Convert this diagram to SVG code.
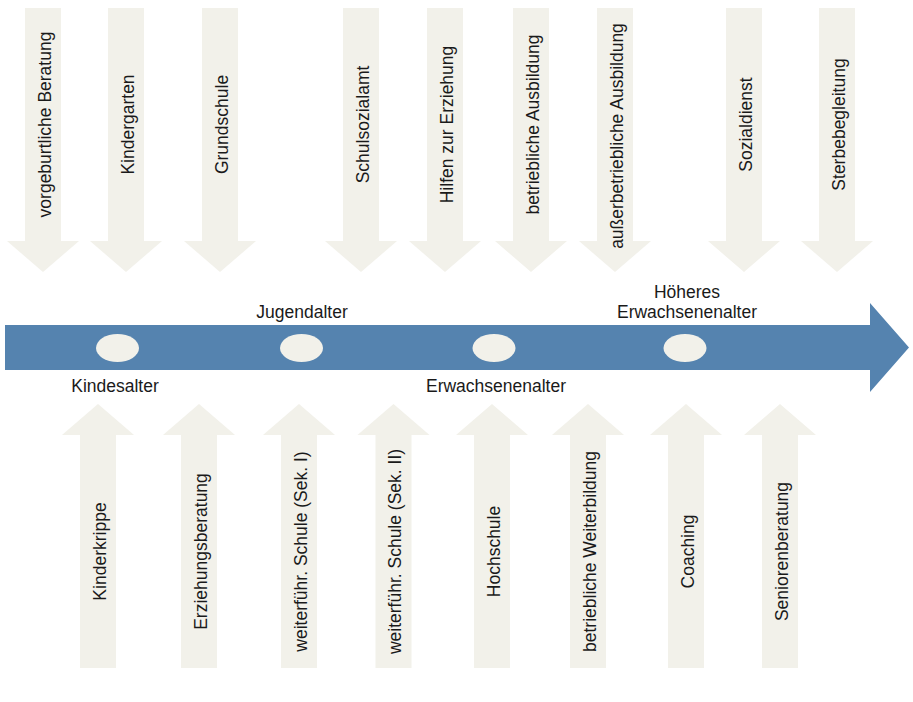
<svg xmlns="http://www.w3.org/2000/svg" width="913" height="702" viewBox="0 0 913 702">
<defs>
<style>
.arr{fill:#F2F1EA;}
.main{fill:#5583AF;}
.dot{fill:#F2F1EA;}
.t{font-family:"Liberation Sans",Arial,sans-serif;font-size:17.5px;fill:#1a1a1a;text-anchor:middle;}
</style>
<path id="down" d="M-18,8 H18 V241 H36 L0,272 L-36,241 H-18 Z"/>
<path id="up" d="M-18,668 H18 V435 H36 L0,404 L-36,435 H-18 Z"/>
</defs>
<rect width="913" height="702" fill="#ffffff"/>
<g id="timeline">
<path class="main" d="M5,325 H870 V303 L909,347.5 L870,392 V370 H5 Z"/>
<ellipse class="dot" cx="117.5" cy="348" rx="21.5" ry="14"/>
<ellipse class="dot" cx="301.5" cy="348" rx="21.5" ry="14"/>
<ellipse class="dot" cx="494" cy="348" rx="21.5" ry="14"/>
<ellipse class="dot" cx="685" cy="348" rx="21.5" ry="14"/>
<text class="t" x="115" y="392">Kindesalter</text>
<text class="t" x="302" y="318">Jugendalter</text>
<text class="t" x="496" y="392">Erwachsenenalter</text>
<text class="t" x="687" y="298">Höheres</text>
<text class="t" x="687" y="318">Erwachsenenalter</text>
</g>
<g id="top-vorgeburtliche"><use href="#down" class="arr" transform="translate(43,0)"/><text class="t" transform="translate(50.5,124.5) rotate(-90)">vorgeburtliche Beratung</text></g>
<g id="top-kindergarten"><use href="#down" class="arr" transform="translate(126,0)"/><text class="t" transform="translate(133.5,124.5) rotate(-90)">Kindergarten</text></g>
<g id="top-grundschule"><use href="#down" class="arr" transform="translate(220,0)"/><text class="t" transform="translate(227.5,124.5) rotate(-90)">Grundschule</text></g>
<g id="top-schulsozialamt"><use href="#down" class="arr" transform="translate(361,0)"/><text class="t" transform="translate(368.5,124.5) rotate(-90)">Schulsozialamt</text></g>
<g id="top-hilfen"><use href="#down" class="arr" transform="translate(445,0)"/><text class="t" transform="translate(452.5,124.5) rotate(-90)">Hilfen zur Erziehung</text></g>
<g id="top-betriebliche"><use href="#down" class="arr" transform="translate(531,0)"/><text class="t" transform="translate(538.5,124.5) rotate(-90)">betriebliche Ausbildung</text></g>
<g id="top-ausserbetriebliche"><use href="#down" class="arr" transform="translate(615,0)"/><text class="t" transform="translate(622.5,136) rotate(-90)">außerbetriebliche Ausbildung</text></g>
<g id="top-sozialdienst"><use href="#down" class="arr" transform="translate(744,0)"/><text class="t" transform="translate(751.5,124.5) rotate(-90)">Sozialdienst</text></g>
<g id="top-sterbebegleitung"><use href="#down" class="arr" transform="translate(837,0)"/><text class="t" transform="translate(844.5,124.5) rotate(-90)">Sterbebegleitung</text></g>
<g id="bot-kinderkrippe"><use href="#up" class="arr" transform="translate(98,0)"/><text class="t" transform="translate(105.5,551.5) rotate(-90)">Kinderkrippe</text></g>
<g id="bot-erziehungsberatung"><use href="#up" class="arr" transform="translate(199,0)"/><text class="t" transform="translate(206.5,551.5) rotate(-90)">Erziehungsberatung</text></g>
<g id="bot-sek1"><use href="#up" class="arr" transform="translate(299,0)"/><text class="t" transform="translate(306.5,551.5) rotate(-90)">weiterführ. Schule (Sek. I)</text></g>
<g id="bot-sek2"><use href="#up" class="arr" transform="translate(393.5,0)"/><text class="t" transform="translate(401,551.5) rotate(-90)">weiterführ. Schule (Sek. II)</text></g>
<g id="bot-hochschule"><use href="#up" class="arr" transform="translate(492,0)"/><text class="t" transform="translate(499.5,551.5) rotate(-90)">Hochschule</text></g>
<g id="bot-weiterbildung"><use href="#up" class="arr" transform="translate(588,0)"/><text class="t" transform="translate(595.5,551.5) rotate(-90)">betriebliche Weiterbildung</text></g>
<g id="bot-coaching"><use href="#up" class="arr" transform="translate(686,0)"/><text class="t" transform="translate(693.5,551.5) rotate(-90)">Coaching</text></g>
<g id="bot-seniorenberatung"><use href="#up" class="arr" transform="translate(780,0)"/><text class="t" transform="translate(787.5,551.5) rotate(-90)">Seniorenberatung</text></g>
<g id="connectors"></g>
</svg>
